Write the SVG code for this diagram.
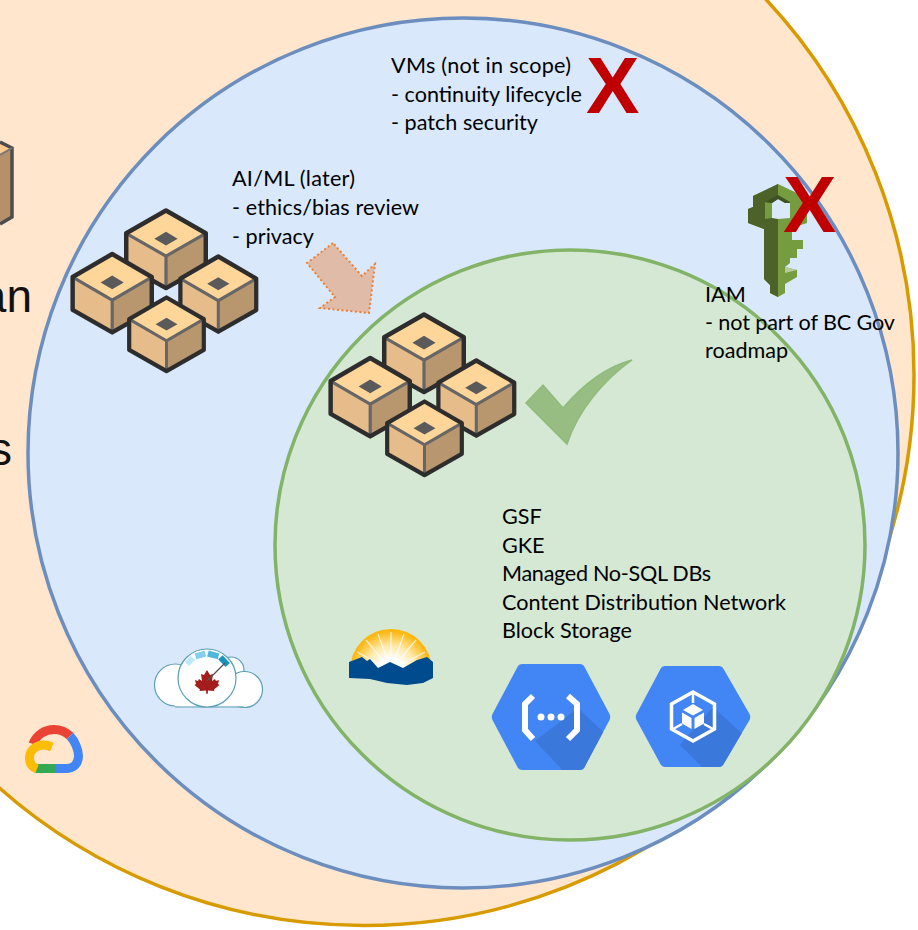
<svg xmlns="http://www.w3.org/2000/svg" width="918" height="930" viewBox="0 0 918 930">
<style>
.lbl{font-family:Lato,"Liberation Sans",sans-serif;font-size:21.6px;fill:#000}
.big{font-family:"Liberation Sans",Arial,sans-serif;font-size:46px;fill:#111}
.x{font-family:"Liberation Sans",Arial,sans-serif;font-weight:bold;font-size:80px;fill:#c00000}
.hex{fill:#4285f4}
.sh{fill:#3b78db}
.wl{fill:none;stroke:#fff;stroke-linejoin:miter}
</style>
<defs>
<g id="cube">
<path d="M0 0L41 23.5V57L0 80L-41 57V23.5Z" fill="#e5bc8a"/>
<path d="M0 47L41 23.5V57L0 80Z" fill="#b8976e"/>
<path d="M0 0L41 23.5L0 47L-41 23.5Z" fill="#ffd699"/>
<path d="M0 22L12 29L0 36L-12 29Z" fill="#5a5a5a"/>
<path d="M-41 23.5L0 47L41 23.5M0 47V80" fill="none" stroke="#666" stroke-width="3.300"/>
<path d="M0 0L41 23.5V57L0 80L-41 57V23.5Z" fill="none" stroke="#2d2d2d" stroke-width="4.600" stroke-linejoin="round"/>
</g>
<g id="cluster">
<use href="#cube" transform="translate(166 210.500) scale(.97 .97)"/>
<use href="#cube" transform="translate(218.300 256.500) scale(.925 .94)"/>
<use href="#cube" transform="translate(112.200 254) scale(.965 .98)"/>
<use href="#cube" transform="translate(166.500 297.500) scale(.91 .92)"/>
</g>
<radialGradient id="sun" gradientUnits="userSpaceOnUse" cx="391" cy="672" r="44">
<stop offset=".3" stop-color="#fff"/><stop offset=".6" stop-color="#fee9a8"/><stop offset=".92" stop-color="#fdb813"/>
</radialGradient>
<clipPath id="h1"><path d="M492.500 714L518 666Q519.500 664 522 664H580Q582.500 664 584 666L609.500 714Q611 717 609.500 720L584 768Q582.500 770 580 770H522Q519.500 770 518 768L492.500 720Q491 717 492.500 714Z"/></clipPath>
<clipPath id="h2"><path d="M636.500 714L661 668Q662.500 666 665 666H719Q721.500 666 723 668L749.500 714Q751 717 749.500 720L723 765Q721.500 767 719 767H665Q662.500 767 661 765L636.500 720Q635 717 636.500 714Z"/></clipPath>
</defs>

<g id="outer-circle"><circle cx="363.500" cy="375" r="550.500" fill="#ffe6cc" stroke="#d79b00" stroke-width="3.500"/></g>
<g id="middle-circle"><circle cx="463" cy="453" r="435" fill="#dae8fc" stroke="#6c8ebf" stroke-width="3.500"/></g>
<g id="inner-circle"><circle cx="570" cy="545" r="295" fill="#d5e8d4" stroke="#82b366" stroke-width="3.500"/></g>

<g id="outer-fragments">
<path d="M0 142L12 148L0 155Z" fill="#ffc98f"/>
<path d="M0 155L12 148V217L0 222Z" fill="#b5906a"/>
<path d="M0 142L12 148V217L0 224" fill="none" stroke="#4d4d4d" stroke-width="3.500"/>
<path d="M0 155L12 148" fill="none" stroke="#777" stroke-width="2"/>
<text class="big" x="32" y="312" text-anchor="end">an</text>
<text class="big" x="12" y="465" text-anchor="end">s</text>
</g>

<g id="vms">
<text class="lbl" x="391" y="73" textLength="180">VMs (not in scope)</text>
<text class="lbl" x="391" y="102" textLength="191">- continuity lifecycle</text>
<text class="lbl" x="391" y="130" textLength="147">- patch security</text>
<text class="x" x="586" y="113">X</text>
</g>

<g id="ai-ml">
<use href="#cluster"/>
<text class="lbl" x="232" y="186" textLength="123">AI/ML (later)</text>
<text class="lbl" x="232" y="215" textLength="187">- ethics/bias review</text>
<text class="lbl" x="232" y="244" textLength="82">- privacy</text>
</g>

<g id="iam">
<path d="M778 184L803 196V206L807 208V223L792 228V240H803V249H797V258H790V263L785 267L797 270V277L785 284V293L778 297L770 293V285L764 279V229L748 223V209L753 207V196Z" fill="#759c3e"/>
<path d="M778 184L753 196V207L748 209V223L764 229V279L770 285V293L778 297Z" fill="#4c6229"/>
<path d="M765 202L772 203V218L765 219Z" fill="#759c3e"/>
<path d="M772 203L778 199L785 203H790V218L778 219L772 218Z" fill="#dae8fc"/>
<path d="M765 202L778 195L790 202V203H785L778 199L772 203Z" fill="#3f5224"/>
<path d="M785 267L797 270L785 273Z" fill="#b7ca9a"/>
<text class="lbl" x="705" y="302">IAM</text>
<text class="lbl" x="705" y="330" textLength="190">- not part of BC Gov</text>
<text class="lbl" x="705" y="358">roadmap</text>
<text class="x" x="783" y="232">X</text>
</g>

<g id="connectors">
<path d="M333 243L307 263L335 297L320 308L369 313L375 264L362 276Z" fill="#e0bba8" stroke="#ee7f2f" stroke-width="2" stroke-dasharray="2 2.500"/>
</g>

<g id="gsf">
<use href="#cluster" transform="translate(258 104)"/>
<path d="M526 403L543 385L563 408C580 388 602 368 632 360C604 380 578 410 567 444Z" fill="#97bd83" stroke="#8fbc7a" stroke-width="1.500"/>
<text class="lbl" x="502" y="524">GSF</text>
<text class="lbl" x="502" y="553">GKE</text>
<text class="lbl" x="502" y="581" textLength="209">Managed No-SQL DBs</text>
<text class="lbl" x="502" y="610" textLength="284">Content Distribution Network</text>
<text class="lbl" x="502" y="638" textLength="130">Block Storage</text>
</g>

<g id="canada-cloud">
<g fill="#fff" stroke="#5a9fb5" stroke-width="1.200">
<circle cx="231" cy="670" r="13"/>
<circle cx="175.500" cy="685" r="21"/>
<circle cx="244.500" cy="689.500" r="18"/>
<rect x="175" y="680" width="69" height="26.500" stroke="none"/>
<path d="M175 707H244" fill="none"/>
<circle cx="207" cy="678" r="29"/>
</g>
<g fill="none" stroke-width="6">
<path d="M187 664L193 658" stroke="#bdeafa"/>
<path d="M195.500 656.400L205.300 653.600" stroke="#7fd0ee"/>
<path d="M207.900 653.500L218.500 656.400" stroke="#4fb8dc"/>
<path d="M220.400 657.400L227.800 665" stroke="#1c93bf"/>
</g>
<path d="M207 670L210 675L213 674L212 681L215 679L216 681L219 680L218 684L219.500 685L214 689.500L214.500 691L208 690.500L207.600 694H206.400L206 690.500L199.500 691L200 689.500L194.500 685L196 684L195 680L198 681L199 679L202 681L201 674L204 675Z" fill="#a51c1c"/>
<path d="M207 681L225 663" stroke="#555" stroke-width="1.300"/>
</g>

<g id="bc-logo">
<path d="M350 670A41 41 0 0 1 432 670V672H350Z" fill="url(#sun)"/>
<g stroke="#fff" stroke-width="1.200" opacity=".75">
<path d="M391 670L391 632M391 670L378 634M391 670L404 634M391 670L366 640M391 670L416 640M391 670L357 652M391 670L425 652"/>
</g>
<path d="M349 662L362 657L367 661L370 659L378 668L390 662L403 668L417 660L427 657L433 662V678L423 683L407 685L387 683L370 679L349 678Z" fill="#004b8d"/>
</g>

<g id="google-cloud-logo" fill="none" stroke-width="9">
<path d="M33 744C36 735 45 729.500 54 729.500C60 729.500 66 732 70 736" stroke="#ea4335"/>
<path d="M70 736C75 741 78.500 750 78.500 756C78.500 763 74 768.500 67 768.500H54" stroke="#4285f4"/>
<path d="M55 768.500H35" stroke="#34a853"/>
<path d="M52 747C38 741 29.500 750 29.500 758C29.500 763 32 767 37 769" stroke="#fbbc05"/>
</g>

<g id="gcp-functions">
<path class="hex" d="M492.500 714L518 666Q519.500 664 522 664H580Q582.500 664 584 666L609.500 714Q611 717 609.500 720L584 768Q582.500 770 580 770H522Q519.500 770 518 768L492.500 720Q491 717 492.500 714Z"/>
<path class="sh" clip-path="url(#h1)" d="M578 708L620 748V775H567L535 741Z"/>
<path class="wl" stroke-width="6" d="M533 696L525 704V730L533 739M568 696L577 704V730L568 739"/>
<g fill="#fff"><circle cx="541" cy="717" r="3.500"/><circle cx="551" cy="717" r="3.500"/><circle cx="561" cy="717" r="3.500"/></g>
</g>

<g id="gcp-gke">
<path class="hex" d="M636.500 714L661 668Q662.500 666 665 666H719Q721.500 666 723 668L749.500 714Q751 717 749.500 720L723 765Q721.500 767 719 767H665Q662.500 767 661 765L636.500 720Q635 717 636.500 714Z"/>
<path class="sh" clip-path="url(#h2)" d="M713 707L760 750V772H707L680 745Z"/>
<path class="wl" stroke-width="3.500" d="M693 692L714.500 704V729L693 741L671.500 729V704Z"/>
<path class="wl" stroke-width="2.500" d="M693 692V703M673 729L682 724M713 729L704 724"/>
<g fill="#fff">
<path d="M693 704L703 710L693 715.500L683 710Z"/>
<path d="M682 712.500L691.500 718V729L682 723.500Z"/>
<path d="M704 712.500L694.500 718V729L704 723.500Z"/>
</g>
</g>
</svg>
